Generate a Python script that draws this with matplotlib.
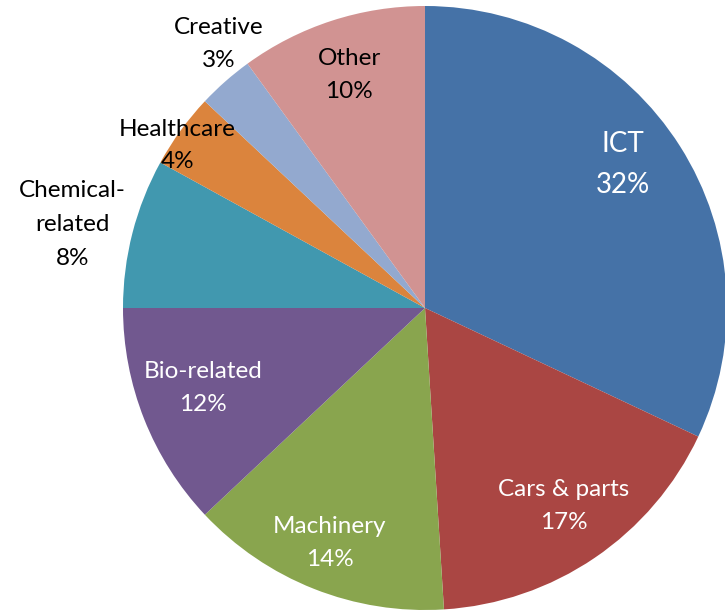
import numpy as np
import matplotlib.pyplot as plt

plt.rcParams['font.family'] = ['Lato', 'DejaVu Sans']

sectors = ['ICT', 'Cars & parts', 'Machinery', 'Bio-related',
           'Chemical-\nrelated', 'Healthcare', 'Creative', 'Other']
shares = [32, 17, 14, 12, 8, 4, 3, 10]
colors = ['#4572A7', '#AA4643', '#89A54E', '#71588F',
          '#4198AF', '#DB843D', '#93A9CF', '#D19392']

# label placement: distance from centre (in radii), angle nudge (deg), colour, size
label_dist = [0.81, 0.80, 0.84, 0.78, 1.20, 0.98, 1.11, 0.81]
label_nudge = [3.6, 0.9, -0.4, -1.8, 1.1, 2.7, -3.4, 0.0]
label_col = ['white', 'white', 'white', 'white', 'black', 'black', 'black', 'black']
label_size = [20, 17.5, 17.5, 17.5, 17.5, 17.5, 17.5, 17.5]
label_ls = [1.7, 1.7, 1.7, 1.7, 1.75, 1.7, 1.7, 1.7]

fig = plt.figure(figsize=(7.25, 6.1), dpi=100)
ax = fig.add_axes([123 / 725, 0.0, 604 / 725, 604 / 610])
wedges, _ = ax.pie(shares, colors=colors, startangle=90, counterclock=False,
                   radius=1, wedgeprops=dict(linewidth=0))
ax.set_xlim(-1, 1)
ax.set_ylim(-1, 1)
ax.set_aspect('auto')
ax.axis('off')

for i, w in enumerate(wedges):
    ang = np.deg2rad((w.theta1 + w.theta2) / 2 + label_nudge[i])
    d = label_dist[i]
    ax.text(d * np.cos(ang), d * np.sin(ang), f'{sectors[i]}\n{shares[i]}%',
            ha='center', va='center', color=label_col[i],
            fontsize=label_size[i], linespacing=label_ls[i])

fig.savefig('out.png', dpi=100)
